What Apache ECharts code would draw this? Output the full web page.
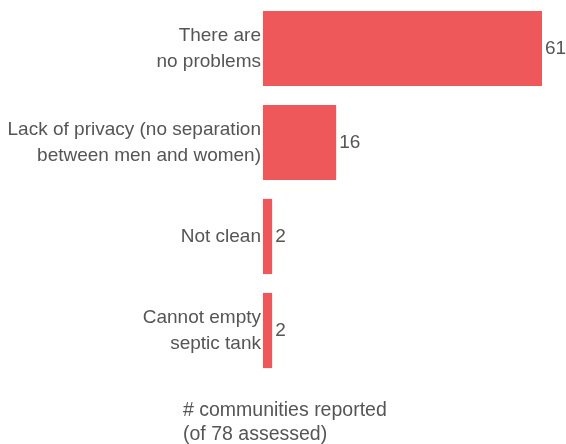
<!DOCTYPE html>
<html><head><meta charset="utf-8">
<script src="https://cdn.jsdelivr.net/npm/echarts@6/dist/echarts.min.js"></script>
<style>html,body{margin:0;padding:0;background:#fff}#c{width:566px;height:444px}</style>
</head><body><div id="c"></div>
<script>
const categories = ["There are\nno problems", "Lack of privacy (no separation\nbetween men and women)", "Not clean", "Cannot empty\nseptic tank"];
const values = [61, 16, 2, 2];
const axisTitle = "# communities reported\n(of 78 assessed)";

const chart = echarts.init(document.getElementById('c'), null, {renderer: 'canvas'});
const font = '"Liberation Sans", Arial, sans-serif';
chart.setOption({
  animation: false,
  grid: {left: 263, right: 24, top: 1.5, height: 376, containLabel: false},
  xAxis: {type: 'value', min: 0, max: 61, show: false},
  yAxis: {
    type: 'category', data: categories, inverse: true,
    axisLine: {show: false}, axisTick: {show: false}, splitLine: {show: false},
    axisLabel: {margin: 2, fontSize: 19, lineHeight: 26, padding: [4, 0, 0, 0], color: '#555', fontFamily: font, align: 'right'}
  },
  series: [{
    type: 'bar', data: values, barCategoryGap: '20%',
    itemStyle: {color: '#EE585A'},
    label: {show: true, position: 'right', distance: 3, fontSize: 19, padding: [4, 0, 0, 0], color: '#555', fontFamily: font}
  }],
  graphic: [{
    type: 'text', left: 183, top: 399,
    style: {text: axisTitle, fontSize: 19.5, lineHeight: 24, fill: '#555', fontFamily: font, textAlign: 'left'}
  }]
});
</script></body></html>
